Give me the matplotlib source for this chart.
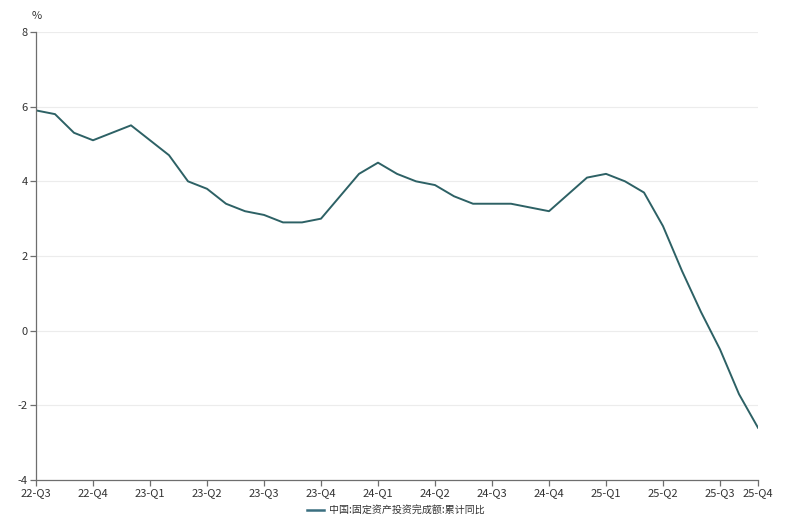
import matplotlib
matplotlib.use("Agg")
import matplotlib.pyplot as plt

plt.rcParams['font.family'] = ['Noto Sans CJK SC', 'DejaVu Sans']

# month index since Sep 2022 (January has no release)
months = [0, 1, 2, 3,
          5, 6, 7, 8, 9, 10, 11, 12, 13, 14, 15,
          17, 18, 19, 20, 21, 22, 23, 24, 25, 26, 27,
          29, 30, 31, 32, 33, 34, 35, 36, 37, 38]
values = [5.9, 5.8, 5.3, 5.1,
          5.5, 5.1, 4.7, 4.0, 3.8, 3.4, 3.2, 3.1, 2.9, 2.9, 3.0,
          4.2, 4.5, 4.2, 4.0, 3.9, 3.6, 3.4, 3.4, 3.4, 3.3, 3.2,
          4.1, 4.2, 4.0, 3.7, 2.8, 1.6, 0.5, -0.5, -1.7, -2.6]
tick_pos = [0, 3, 6, 9, 12, 15, 18, 21, 24, 27, 30, 33, 36, 38]
tick_labels = ['22-Q3', '22-Q4', '23-Q1', '23-Q2', '23-Q3', '23-Q4', '24-Q1',
               '24-Q2', '24-Q3', '24-Q4', '25-Q1', '25-Q2', '25-Q3', '25-Q4']
y_ticks = [-4, -2, 0, 2, 4, 6, 8]
series_name = '中国:固定资产投资完成额:累计同比'

W, H = 794, 525
fig = plt.figure(figsize=(W / 100, H / 100), dpi=100)
ax = fig.add_axes([36 / W, 1 - 480 / H, (758 - 36) / W, (480 - 32) / H])

line_color = '#2d6165'
ax.plot(months, values, color=line_color, lw=1.4, label=series_name)

ax.set_xlim(0, 38)
ax.set_ylim(-4, 8)
ax.set_xticks(tick_pos)
ax.set_xticklabels(tick_labels)
ax.set_yticks(y_ticks)
ax.set_yticklabels([str(v) for v in y_ticks])

for v in y_ticks[1:]:
    ax.axhline(v, color='#ececec', lw=0.8, zorder=0)

for s in ['top', 'right']:
    ax.spines[s].set_visible(False)
for s in ['left', 'bottom']:
    ax.spines[s].set_color('#6e6e6e')
    ax.spines[s].set_linewidth(0.9)

ax.tick_params(axis='both', colors='#6e6e6e', length=4, width=0.9,
               labelsize=8, labelcolor='#333333', pad=2)

fig.text(37 / W, 1 - 16 / H, '%', fontsize=8, color='#333333',
         ha='center', va='center')

leg = fig.legend(loc='center', bbox_to_anchor=(396 / W, 1 - 510 / H),
                 frameon=False, fontsize=7.2, handlelength=1.7,
                 handletextpad=0.5)
leg.get_lines()[0].set_color('#3a6f80')
leg.get_lines()[0].set_linewidth(1.8)
for t in leg.get_texts():
    t.set_color('#333333')

fig.savefig('out.png', dpi=100, facecolor='white')
